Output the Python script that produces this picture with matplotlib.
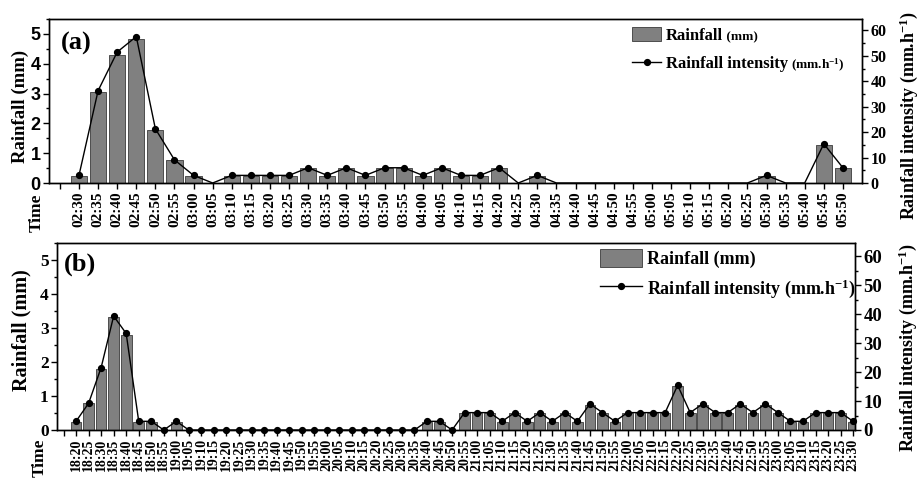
import matplotlib
matplotlib.use('Agg')
import matplotlib.pyplot as plt
from matplotlib.ticker import MultipleLocator, FixedLocator, FixedFormatter
from matplotlib.patches import Patch
from matplotlib.lines import Line2D

# ---------------- data ----------------
times_a = ["02:30", "02:35", "02:40", "02:45", "02:50", "02:55", "03:00", "03:05",
           "03:10", "03:15", "03:20", "03:25", "03:30", "03:35", "03:40", "03:45",
           "03:50", "03:55", "04:00", "04:05", "04:10", "04:15", "04:20", "04:25",
           "04:30", "04:35", "04:40", "04:45", "04:50", "04:55", "05:00", "05:05",
           "05:10", "05:15", "05:20", "05:25", "05:30", "05:35", "05:40", "05:45",
           "05:50"]
rain_a = [0.25, 3.05, 4.3, 4.83, 1.78, 0.76, 0.25, 0.0,
          0.25, 0.25, 0.25, 0.25, 0.5, 0.25, 0.5, 0.25,
          0.5, 0.5, 0.25, 0.5, 0.25, 0.25, 0.5, 0.0,
          0.25, 0.0, 0.0, 0.0, 0.0, 0.0, 0.0, 0.0,
          0.0, 0.0, 0.0, 0.0, 0.25, 0.0, 0.0, 1.28,
          0.5]
intensity_a = [3, 36.3, 51.5, 57.6, 21.3, 9.1, 3, 0,
               3, 3, 3, 3, 6, 3, 6, 3,
               6, 6, 3, 6, 3, 3, 6, 0,
               3, 0, 0, 0, 0, 0, 0, 0,
               0, 0, 0, 0, 3, 0, 0, 15.4,
               6]

times_b = ["18:20", "18:25", "18:30", "18:35", "18:40", "18:45", "18:50", "18:55",
           "19:00", "19:05", "19:10", "19:15", "19:20", "19:25", "19:30", "19:35",
           "19:40", "19:45", "19:50", "19:55", "20:00", "20:05", "20:10", "20:15",
           "20:20", "20:25", "20:30", "20:35", "20:40", "20:45", "20:50", "20:55",
           "21:00", "21:05", "21:10", "21:15", "21:20", "21:25", "21:30", "21:35",
           "21:40", "21:45", "21:50", "21:55", "22:00", "22:05", "22:10", "22:15",
           "22:20", "22:25", "22:30", "22:35", "22:40", "22:45", "22:50", "22:55",
           "23:00", "23:05", "23:10", "23:15", "23:20", "23:25", "23:30"]
rain_b = [0.25, 0.78, 1.78, 3.31, 2.79, 0.25, 0.25, 0.0,
          0.25, 0.0, 0.0, 0.0, 0.0, 0.0, 0.0, 0.0,
          0.0, 0.0, 0.0, 0.0, 0.0, 0.0, 0.0, 0.0,
          0.0, 0.0, 0.0, 0.0, 0.25, 0.25, 0.0, 0.5,
          0.5, 0.5, 0.25, 0.5, 0.25, 0.5, 0.25, 0.5,
          0.25, 0.75, 0.5, 0.25, 0.5, 0.5, 0.5, 0.5,
          1.28, 0.5, 0.75, 0.5, 0.5, 0.75, 0.5, 0.75,
          0.5, 0.25, 0.25, 0.5, 0.5, 0.5, 0.25]
intensity_b = [3, 9.2, 21.5, 39.3, 33.3, 3, 3, 0,
               3, 0, 0, 0, 0, 0, 0, 0,
               0, 0, 0, 0, 0, 0, 0, 0,
               0, 0, 0, 0, 3, 3, 0, 6,
               6, 6, 3, 6, 3, 6, 3, 6,
               3, 9, 6, 3, 6, 6, 6, 6,
               15.4, 6, 9, 6, 6, 9, 6, 9,
               6, 3, 3, 6, 6, 6, 3]

# ---------------- style ----------------
plt.rcParams['font.family'] = ['Liberation Serif', 'DejaVu Serif']
plt.rcParams['font.weight'] = 'bold'
plt.rcParams['mathtext.fontset'] = 'custom'
plt.rcParams['mathtext.rm'] = 'Liberation Serif:bold'
plt.rcParams['mathtext.bf'] = 'Liberation Serif:bold'
plt.rcParams['mathtext.default'] = 'bf'
plt.rcParams['axes.linewidth'] = 1.0

W, H = 919, 482
fig = plt.figure(figsize=(W / 100, H / 100), dpi=100)

BAR_FC = '#808080'
BAR_EC = '#4d4d4d'


def ax_rect(l, r, t, b):
    return [l / W, 1 - b / H, (r - l) / W, (b - t) / H]


def panel(box, times, rain, inten, xlim, letter, letter_xy, ytick_font,
          tick_fs, rtick_fs, lab_fs, lab_pos, leg_fs, leg_anchor, leg_hl, leg_hh,
          leg_ls, leg_labels, draw_zero_markers):
    l, r, t, b = box
    ax = fig.add_axes(ax_rect(l, r, t, b))
    n = len(times)
    x = list(range(n))
    ax.bar(x, rain, width=0.85, color=BAR_FC, edgecolor=BAR_EC, linewidth=0.7, zorder=2)
    ax.set_xlim(*xlim)
    ax.set_ylim(0, 5.5)
    ax.yaxis.set_major_locator(MultipleLocator(1))
    ax.yaxis.set_minor_locator(MultipleLocator(0.5))
    ax.tick_params(axis='y', which='major', direction='out', length=4, width=1,
                   labelsize=ytick_font[1], pad=2)
    ax.tick_params(axis='y', which='minor', direction='out', length=2.5, width=1)
    for lb in ax.get_yticklabels():
        lb.set_fontfamily(ytick_font[0])
        lb.set_fontweight('bold')
    ticks = list(range(-1, n))
    ax.xaxis.set_major_locator(FixedLocator(ticks))
    ax.xaxis.set_major_formatter(FixedFormatter([''] + times))
    ax.tick_params(axis='x', direction='out', length=4, width=1, labelsize=tick_fs,
                   rotation=90, pad=2)
    for lb in ax.get_xticklabels():
        lb.set_fontweight('bold')
    ax.set_ylabel('Rainfall (mm)', fontsize=lab_fs[0], fontweight='bold')
    ax.yaxis.set_label_coords((lab_pos[0] - l) / (r - l), (b - lab_pos[1]) / (b - t))

    ax2 = ax.twinx()
    ax2.set_ylim(0, 64.5)
    ax2.yaxis.set_major_locator(MultipleLocator(10))
    ax2.yaxis.set_minor_locator(MultipleLocator(5))
    ax2.tick_params(axis='y', which='major', direction='out', length=4, width=1,
                    labelsize=rtick_fs, pad=2)
    ax2.tick_params(axis='y', which='minor', direction='out', length=2.5, width=1)
    ax2.set_ylabel('Rainfall intensity (mm.h$^{-1}$)', fontsize=lab_fs[1],
                   fontweight='bold')
    ax2.yaxis.set_label_coords((lab_pos[2] - l) / (r - l), (b - lab_pos[3]) / (b - t))
    if draw_zero_markers:
        mk = list(range(n))
    else:
        mk = [i for i, v in enumerate(inten) if v > 0]
    ax2.plot(x, inten, color='black', linewidth=1.0, marker='o', markersize=4.2,
             markevery=mk, zorder=3, clip_on=False)
    ax2.set_xlim(*xlim)

    fig.text(letter_xy[0] / W, 1 - letter_xy[1] / H, letter, fontsize=19,
             fontweight='bold', ha='left', va='center')

    handles = [Patch(facecolor=BAR_FC, edgecolor=BAR_EC, linewidth=0.7),
               Line2D([], [], color='black', linewidth=1.0, marker='o', markersize=4.2)]
    leg = ax2.legend(handles, leg_labels, loc='upper left',
                     bbox_to_anchor=(leg_anchor[0] / W, 1 - leg_anchor[1] / H),
                     bbox_transform=fig.transFigure, frameon=False,
                     handlelength=leg_hl, handleheight=leg_hh,
                     handletextpad=0.3, borderpad=0, borderaxespad=0,
                     labelspacing=leg_ls, prop={'weight': 'bold', 'size': leg_fs})
    return ax, ax2, leg


_, _, leg_a = panel((49, 862, 19, 183), times_a, rain_a, intensity_a, (-1.57, 41.0),
                    '(a)', (61, 43), ('Liberation Sans', 13), 11, 11.5,
                    (13.5, 13.0), (29, 106, 897, 116), 12, (632, 27), 1.75, 0.9, 0.72,
                    ['Rainfall', 'Rainfall intensity'], False)
_, _, leg_b = panel((57, 855, 243, 430), times_b, rain_b, intensity_b, (-1.52, 62.15),
                    '(b)', (64, 264), ('Liberation Serif', 12.5), 10, 13.5,
                    (14.5, 13.0), (31, 330, 896, 348), 13, (600, 249), 2.3, 1.15, 0.5,
                    ['Rainfall (mm)', 'Rainfall intensity (mm.h$^{-1}$)'], True)

# smaller unit text following the legend labels of panel (a)
fig.canvas.draw()
renderer = fig.canvas.get_renderer()
units_a = [' (mm)', ' (mm.h$^{-1}$)']
for txt, unit in zip(leg_a.get_texts(), units_a):
    bb = txt.get_window_extent(renderer)
    fs_px = 12 * 100 / 72
    baseline = bb.y0 + 0.216 * fs_px
    fig.text(bb.x1 / W, baseline / H, unit, fontsize=9.5, fontweight='bold',
             ha='left', va='baseline')

fig.text(37 / W, 1 - 213 / H, 'Time', rotation=90, fontsize=12.5, fontweight='bold',
         ha='center', va='center')
fig.text(40 / W, 1 - 458 / H, 'Time', rotation=90, fontsize=12.5, fontweight='bold',
         ha='center', va='center')

fig.savefig('out.png', dpi=100, facecolor='white')
